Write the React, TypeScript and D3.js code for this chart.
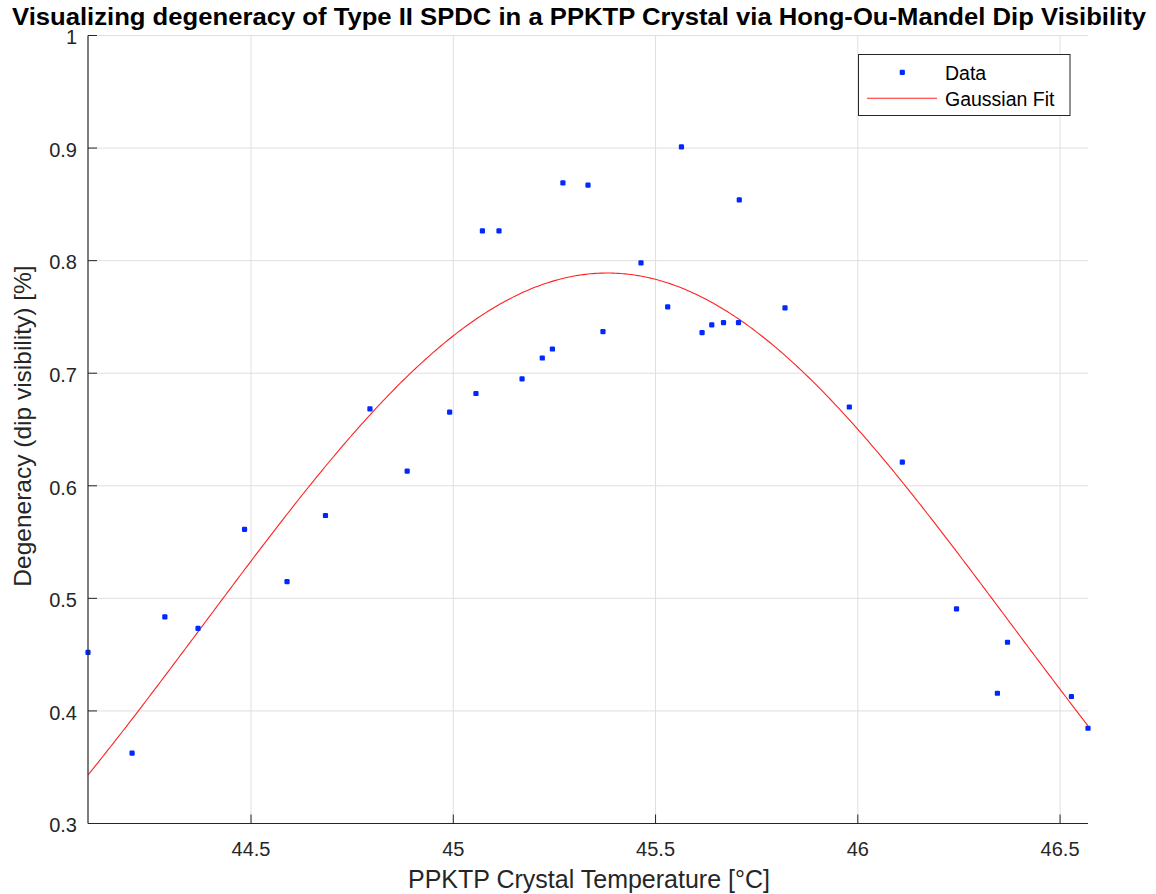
import React from "react";
import * as d3 from "d3";

const tempC = [
  44.097, 44.206, 44.287, 44.369, 44.484, 44.589, 44.684, 44.794, 44.886, 44.991,
  45.056, 45.072, 45.113, 45.17, 45.22, 45.245, 45.271, 45.333, 45.37, 45.464,
  45.53, 45.564, 45.615, 45.639, 45.668, 45.705, 45.707, 45.82, 45.979, 46.11,
  46.244, 46.345, 46.37, 46.528, 46.569,
];
const visibility = [
  0.452, 0.3625, 0.4835, 0.4734, 0.5612, 0.5148, 0.5736, 0.6683, 0.613, 0.6654,
  0.682, 0.8265, 0.8265, 0.695, 0.7135, 0.7215, 0.869, 0.867, 0.737, 0.798,
  0.759, 0.901, 0.736, 0.743, 0.745, 0.745, 0.854, 0.758, 0.67, 0.621,
  0.4906, 0.4157, 0.461, 0.4128, 0.3846,
];
// Gaussian fit parameters: a * exp(-((x - b) / c)^2)
const fitA = 0.789;
const fitB = 45.381;
const fitC = 1.407;

const xTicks = [44.5, 45, 45.5, 46, 46.5];
const xTickLabels = ["44.5", "45", "45.5", "46", "46.5"];
const yTicks = [0.3, 0.4, 0.5, 0.6, 0.7, 0.8, 0.9, 1];
const yTickLabels = ["0.3", "0.4", "0.5", "0.6", "0.7", "0.8", "0.9", "1"];

const W = 1156;
const H = 894;
const left = 88;
const right = 1088;
const top = 35.5;
const bottom = 823.5;
const FONT = "'Liberation Sans', Arial, Helvetica, sans-serif";
const AXIS = "#262626";

export default function App() {
  const x = d3.scaleLinear().domain([d3.min(tempC)!, d3.max(tempC)!]).range([left, right]);
  const y = d3.scaleLinear().domain([0.3, 1]).range([bottom, top]);

  const fitPts = d3.range(0, 401).map((i) => {
    const xv = x.domain()[0] + (i / 400) * (x.domain()[1] - x.domain()[0]);
    return [xv, fitA * Math.exp(-Math.pow((xv - fitB) / fitC, 2))] as [number, number];
  });
  const line = d3
    .line<[number, number]>()
    .x((d) => x(d[0]))
    .y((d) => y(d[1]));

  const tickLen = 9;

  return (
    <svg
      width={W}
      height={H}
      style={{ position: "absolute", left: 0, top: 0, background: "#fff" }}
      fontFamily={FONT}
    >
      <rect x={0} y={0} width={W} height={H} fill="#fff" />
      {/* grid */}
      {xTicks.map((t) => (
        <line key={"gx" + t} x1={x(t)} x2={x(t)} y1={top} y2={bottom} stroke="#dfdfdf" strokeWidth={1} />
      ))}
      {yTicks.map((t) => (
        <line key={"gy" + t} x1={left} x2={right} y1={y(t)} y2={y(t)} stroke="#dfdfdf" strokeWidth={1} />
      ))}
      {/* fit */}
      <path d={line(fitPts) || ""} fill="none" stroke="#f22" strokeWidth={1.1} />
      {/* data */}
      {tempC.map((t, i) => (
        <rect
          key={"p" + i}
          x={x(t) - 2.6}
          y={y(visibility[i]) - 2.6}
          width={5.2}
          height={5.2}
          rx={1.2}
          fill="#0028ff"
        />
      ))}
      {/* axes */}
      <line x1={left} x2={left} y1={top} y2={bottom} stroke={AXIS} strokeWidth={1.2} />
      <line x1={left} x2={right} y1={bottom} y2={bottom} stroke={AXIS} strokeWidth={1.2} />
      {xTicks.map((t, i) => (
        <g key={"xt" + t}>
          <line x1={x(t)} x2={x(t)} y1={bottom} y2={bottom - tickLen} stroke={AXIS} strokeWidth={1} />
          <text x={x(t)} y={855.5} textAnchor="middle" fontSize={20} fill={AXIS}>
            {xTickLabels[i]}
          </text>
        </g>
      ))}
      {yTicks.map((t, i) => (
        <g key={"yt" + t}>
          <line x1={left} x2={left + tickLen} y1={y(t)} y2={y(t)} stroke={AXIS} strokeWidth={1} />
          <text x={77} y={y(t) + 8.8} textAnchor="end" fontSize={20} fill={AXIS}>
            {yTickLabels[i]}
          </text>
        </g>
      ))}
      {/* labels */}
      <text x={589} y={888} textAnchor="middle" fontSize={25} fill={AXIS}>
        PPKTP Crystal Temperature [°C]
      </text>
      <text
        transform={`translate(31,426) rotate(-90)`}
        textAnchor="middle"
        fontSize={24.5}
        fill={AXIS}
      >
        Degeneracy (dip visibility) [%]
      </text>
      <text
        x={579}
        y={25}
        textAnchor="middle"
        fontSize={24}
        fontWeight="bold"
        fill="#000"
        textLength={1134}
        lengthAdjust="spacingAndGlyphs"
      >
        Visualizing degeneracy of Type II SPDC in a PPKTP Crystal via Hong-Ou-Mandel Dip Visibility
      </text>
      {/* legend */}
      <rect x={858.5} y={54.5} width={211.5} height={61} fill="#fff" stroke={AXIS} strokeWidth={1} />
      <rect x={902.3 - 2.6} y={72.3 - 2.6} width={5.2} height={5.2} rx={1.2} fill="#0028ff" />
      <text x={945} y={80} fontSize={19.5} fill="#000">
        Data
      </text>
      <line x1={867} x2={937} y1={98.3} y2={98.3} stroke="#f22" strokeWidth={1.1} />
      <text x={945} y={105.5} fontSize={19.5} fill="#000">
        Gaussian Fit
      </text>
    </svg>
  );
}
